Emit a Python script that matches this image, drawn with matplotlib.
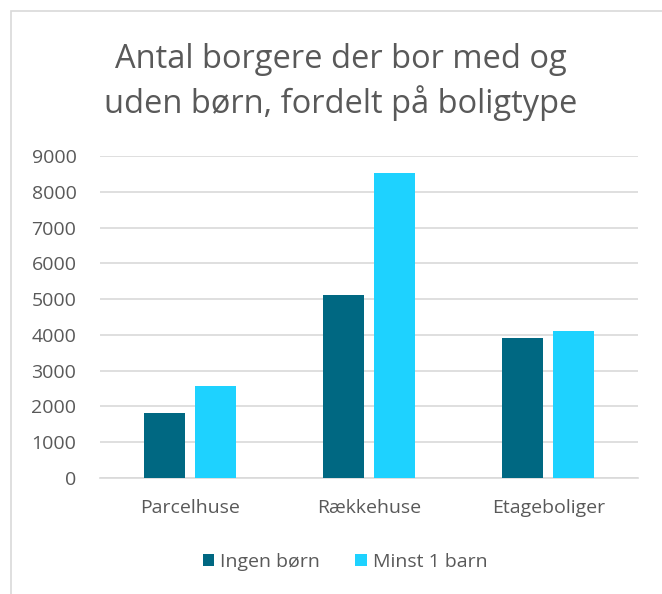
import numpy as np
import matplotlib.pyplot as plt
from matplotlib.patches import Rectangle

plt.rcParams['font.family'] = ['Open Sans', 'DejaVu Sans']

# data
categories = ['Parcelhuse', 'Rækkehuse', 'Etageboliger']
ingen_born = [1810, 5110, 3910]
minst_1_barn = [2570, 8530, 4100]
series_names = ['Ingen børn', 'Minst 1 barn']
yticks = [0, 1000, 2000, 3000, 4000, 5000, 6000, 7000, 8000, 9000]

dark = '#006882'
light = '#1ED2FF'
txt = '#595959'
grid = '#D9D9D9'

W, H = 662, 594
fig = plt.figure(figsize=(W / 100, H / 100), dpi=100)

# chart frame
fig.patches.append(Rectangle((11 / W, -0.1), 1.2, 1 - 11 / H + 0.1,
                             transform=fig.transFigure, fill=False,
                             edgecolor=grid, linewidth=1.2))

ax = fig.add_axes([100 / W, 1 - 478 / H, 538 / W, (478 - 156) / H])

x = np.arange(len(categories))
bw = 0.229
off = 0.142
ax.bar(x - off, ingen_born, bw, color=dark, label=series_names[0], zorder=3)
ax.bar(x + off, minst_1_barn, bw, color=light, label=series_names[1], zorder=3)

ax.set_xlim(-0.5, 2.5)
ax.set_ylim(0, 9000)
ax.set_yticks(yticks)
ax.set_xticks(x)
ax.set_xticklabels(categories)
ax.yaxis.grid(True, color=grid, linewidth=1.2, zorder=0)
ax.tick_params(axis='both', length=0, labelsize=14, colors=txt)
ax.tick_params(axis='y', pad=17)
ax.tick_params(axis='x', pad=15)
for s in ['top', 'right', 'left']:
    ax.spines[s].set_visible(False)
ax.spines['bottom'].set_color(grid)
ax.spines['bottom'].set_linewidth(1.2)

fig.text(341 / W, 1 - 82 / H, 'Antal borgere der bor med og\nuden børn, fordelt på boligtype',
         ha='center', va='center', fontsize=23.5, color=txt, linespacing=1.3)

leg = fig.legend(loc='center', bbox_to_anchor=(345 / W, 1 - 562 / H), ncol=2,
                 frameon=False, fontsize=14, handlelength=0.6, handleheight=0.6,
                 handletextpad=0.3, columnspacing=1.8)
for t in leg.get_texts():
    t.set_color(txt)

fig.savefig('out.png', dpi=100)
